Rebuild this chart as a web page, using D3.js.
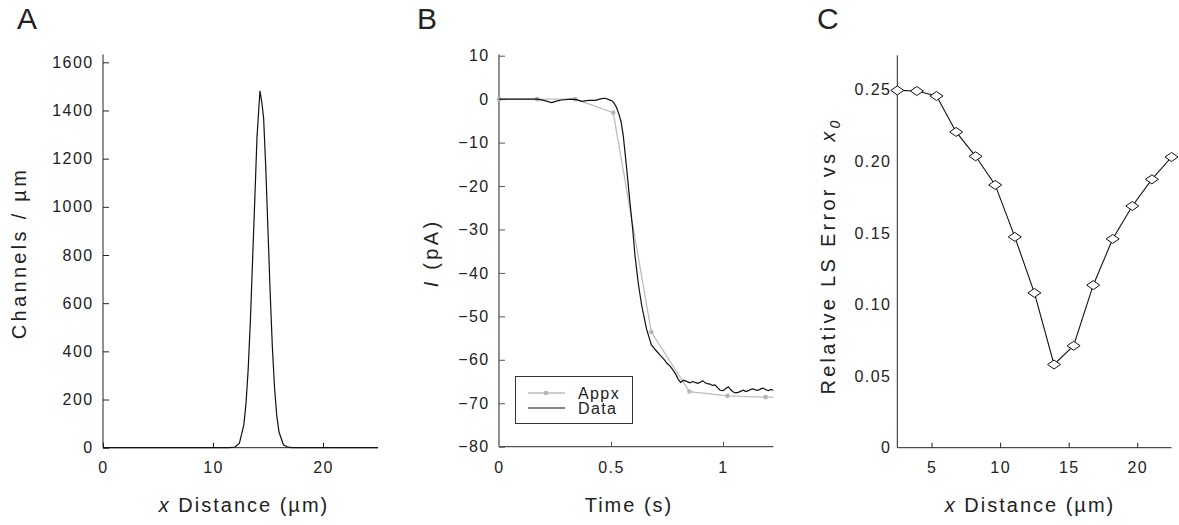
<!DOCTYPE html>
<html><head><meta charset="utf-8">
<script src="https://cdn.jsdelivr.net/npm/d3@7"></script>
<style>
body{margin:0;background:#fff;}
svg{display:block;font-family:"Liberation Sans",Arial,sans-serif;}
.tick text{font-size:16px;fill:#222;letter-spacing:1.4px;}
</style></head><body>
<svg id="c" width="1179" height="525"></svg>
<script>
// ---------- Panel A data ----------
const distA = [0, 11.5, 12.0, 12.4, 12.8, 13.0, 13.2, 13.4, 13.6, 13.8, 14.0, 14.27, 14.45, 14.6, 14.8, 15.0, 15.2, 15.4, 15.6, 15.8, 16.0, 16.4, 16.8, 17.2, 25];
const chanA = [0, 0, 3, 19, 94, 184, 327, 529, 781, 1030, 1290, 1482, 1430, 1370, 1160, 900, 640, 415, 245, 132, 65, 12, 2, 0, 0];
const ticksAx = [0, 10, 20];
const ticksAy = [0, 200, 400, 600, 800, 1000, 1200, 1400, 1600];

// ---------- Panel B data ----------
const timeB = [0, 0.17, 0.2, 0.235, 0.26, 0.28, 0.32, 0.345, 0.37, 0.4, 0.43, 0.458, 0.475, 0.49, 0.505, 0.515, 0.525, 0.535, 0.545, 0.555, 0.57, 0.585, 0.597, 0.607, 0.622, 0.637, 0.659, 0.68, 0.7, 0.72, 0.735, 0.75, 0.765, 0.78, 0.79, 0.8, 0.811, 0.823, 0.835, 0.852, 0.865, 0.875, 0.887, 0.897, 0.91, 0.92, 0.93, 0.942, 0.953, 0.964, 0.976, 0.987, 1.001, 1.012, 1.024, 1.035, 1.046, 1.057, 1.068, 1.08, 1.091, 1.102, 1.113, 1.124, 1.135, 1.147, 1.158, 1.169, 1.18, 1.191, 1.202, 1.213, 1.225];
const dataB = [0, 0, -0.3, -0.8, -0.4, -0.2, 0, -0.1, -0.5, -0.3, -0.3, 0.1, 0.2, -0.1, -0.4, -1.0, -2.0, -3.4, -5.2, -8.5, -16.0, -24.0, -30.0, -36.0, -42.5, -47.5, -53.0, -56.5, -57.8, -59.0, -59.8, -60.8, -61.5, -62.6, -63.4, -64.5, -65.2, -64.7, -64.9, -65.3, -65.0, -65.2, -65.4, -65.2, -64.8, -65.3, -65.5, -65.6, -65.9, -65.8, -66.4, -67.0, -67.1, -66.6, -66.2, -66.9, -67.4, -67.6, -67.5, -67.2, -67.0, -67.3, -67.1, -66.8, -66.7, -67.0, -67.0, -66.7, -66.5, -66.9, -67.1, -66.8, -67.0];
const timeAppx = [0, 0.17, 0.34, 0.51, 0.68, 0.85, 1.02, 1.19, 1.225];
const appxB = [0, 0, 0, -3.1, -53.6, -67.3, -68.3, -68.6, -68.6];
const appxMarked = 8; // markers drawn on the first 8 samples
const ticksBx = [0, 0.5, 1];
const ticksBy = [10, 0, -10, -20, -30, -40, -50, -60, -70, -80];
const legendLabels = ["Appx", "Data"];

// ---------- Panel C data ----------
const distC = [2.5, 3.93, 5.36, 6.79, 8.21, 9.64, 11.07, 12.5, 13.93, 15.36, 16.79, 18.21, 19.64, 21.07, 22.5];
const errC = [0.2495, 0.2491, 0.2456, 0.2205, 0.2035, 0.1835, 0.1472, 0.1081, 0.0581, 0.0712, 0.1135, 0.1458, 0.1688, 0.1874, 0.2030];
const ticksCx = [5, 10, 15, 20];
const ticksCy = [0, 0.05, 0.10, 0.15, 0.20, 0.25];
const ticksCyLabels = ["0", "0.05", "0.10", "0.15", "0.20", "0.25"];

const svg = d3.select("#c");
const txt = "#222";

function panelLabel(x, t){
  svg.append("text").attr("x", x).attr("y", 29).attr("font-size", 30).attr("fill", txt).text(t);
}
function yTitle(x, cy, build){
  const t = svg.append("text").attr("transform", `translate(${x},${cy}) rotate(-90)`)
    .attr("text-anchor", "middle").attr("font-size", 20).attr("letter-spacing", 3.3).attr("fill", txt);
  build(t);
}
function xTitle(cx, build){
  const t = svg.append("text").attr("x", cx).attr("y", 512).attr("text-anchor", "middle")
    .attr("font-size", 20).attr("letter-spacing", 2).attr("fill", txt);
  build(t);
}
function styleAxis(g, col){
  g.select(".domain").remove();
  g.selectAll(".tick line").attr("stroke", col);
  g.selectAll(".tick text").attr("fill", txt);
}

// ================= Panel A =================
{
  const x = d3.scaleLinear().domain([0, 25]).range([103, 378]);
  const y = d3.scaleLinear().domain([0, 1600]).range([447.7, 62.3]);
  const col = "#222";
  const gx = svg.append("g").attr("transform", `translate(0,${y(0)})`)
    .call(d3.axisBottom(x).tickValues(ticksAx).tickSize(-5).tickPadding(14).tickFormat(d3.format("d")));
  styleAxis(gx, col);
  const gy = svg.append("g").attr("transform", `translate(${x(0)},0)`)
    .call(d3.axisLeft(y).tickValues(ticksAy).tickSize(-6).tickPadding(9.5).tickFormat(d3.format("d")));
  styleAxis(gy, col);
  svg.append("line").attr("x1", x(0)).attr("x2", x(0)).attr("y1", y(0)).attr("y2", y(1633)).attr("stroke", col);
  svg.append("line").attr("x1", x(0)).attr("x2", x(25)).attr("y1", y(0)).attr("y2", y(0)).attr("stroke", col);
  svg.append("path").datum(distA.map((d, i) => [d, chanA[i]]))
    .attr("fill", "none").attr("stroke", "#111").attr("stroke-width", 1.2)
    .attr("d", d3.line().x(d => x(d[0])).y(d => y(d[1])));
  panelLabel(17, "A");
  yTitle(26, 253, t => t.text("Channels / µm"));
  xTitle(244, t => { t.append("tspan").attr("font-style", "italic").text("x"); t.append("tspan").text(" Distance (µm)"); });
}

// ================= Panel B =================
{
  const x = d3.scaleLinear().domain([0, 1.225]).range([499, 773.4]);
  const y = d3.scaleLinear().domain([-80, 10]).range([446.7, 55.7]);
  const col = "#555";
  const gx = svg.append("g").attr("transform", `translate(0,${y(-80)})`)
    .call(d3.axisBottom(x).tickValues(ticksBx).tickSize(-5).tickPadding(15).tickFormat(d3.format("~g")));
  styleAxis(gx, col);
  gx.selectAll(".tick").filter(d => d === 0).select("line").remove();
  const gy = svg.append("g").attr("transform", `translate(${x(0)},0)`)
    .call(d3.axisLeft(y).tickValues(ticksBy).tickSize(-6).tickPadding(9.5).tickFormat(d3.format("d")));
  styleAxis(gy, col);
  svg.append("line").attr("x1", x(0)).attr("x2", x(0)).attr("y1", y(-80)).attr("y2", y(10.3)).attr("stroke", col).attr("stroke-width", 1.3);
  svg.append("line").attr("x1", x(0)).attr("x2", x(1.225)).attr("y1", y(-80)).attr("y2", y(-80)).attr("stroke", col).attr("stroke-width", 1.3);

  const line = d3.line().x(d => x(d[0])).y(d => y(d[1]));
  svg.append("path").datum(timeAppx.map((d, i) => [d, appxB[i]]))
    .attr("fill", "none").attr("stroke", "#bdbdbd").attr("stroke-width", 1.3).attr("d", line);
  svg.append("g").selectAll("circle").data(timeAppx.slice(0, appxMarked)).join("circle")
    .attr("cx", d => x(d)).attr("cy", (d, i) => y(appxB[i])).attr("r", 2.3).attr("fill", "#b5b5b5");
  svg.append("path").datum(timeB.map((d, i) => [d, dataB[i]]))
    .attr("fill", "none").attr("stroke", "#111").attr("stroke-width", 1.2).attr("d", line);

  // legend
  const lg = svg.append("g");
  lg.append("rect").attr("x", 515.5).attr("y", 376.5).attr("width", 117).attr("height", 47)
    .attr("fill", "#fff").attr("stroke", "#333").attr("stroke-width", 1);
  lg.append("line").attr("x1", 528).attr("x2", 565).attr("y1", 393).attr("y2", 393).attr("stroke", "#bdbdbd").attr("stroke-width", 1.3);
  lg.append("circle").attr("cx", 546).attr("cy", 393).attr("r", 2.3).attr("fill", "#b5b5b5");
  lg.append("line").attr("x1", 528).attr("x2", 565).attr("y1", 408).attr("y2", 408).attr("stroke", "#111").attr("stroke-width", 1.2);
  lg.selectAll("text").data(legendLabels).join("text")
    .attr("x", 578).attr("y", (d, i) => 399 + i * 15).attr("font-size", 16).attr("letter-spacing", 1.4)
    .attr("fill", txt).text(d => d);

  panelLabel(417, "B");
  yTitle(438, 253, t => { t.append("tspan").attr("font-style", "italic").text("I"); t.append("tspan").text(" (pA)"); });
  xTitle(629, t => t.text("Time (s)"));
}

// ================= Panel C =================
{
  const x = d3.scaleLinear().domain([2.5, 22.5]).range([897.3, 1171.5]);
  const y = d3.scaleLinear().domain([0, 0.25]).range([447.7, 89.7]);
  const col = "#222";
  const gx = svg.append("g").attr("transform", `translate(0,${y(0)})`)
    .call(d3.axisBottom(x).tickValues(ticksCx).tickSize(-5).tickPadding(14).tickFormat(d3.format("d")));
  styleAxis(gx, col);
  const gy = svg.append("g").attr("transform", `translate(${x(2.5)},0)`)
    .call(d3.axisLeft(y).tickValues(ticksCy).tickSize(0).tickPadding(6).tickFormat((d, i) => ticksCyLabels[i]));
  styleAxis(gy, col);
  svg.append("line").attr("x1", x(2.5)).attr("x2", x(2.5)).attr("y1", y(0)).attr("y2", y(0.274)).attr("stroke", col);
  svg.append("line").attr("x1", x(2.5)).attr("x2", x(22.5)).attr("y1", y(0)).attr("y2", y(0)).attr("stroke", col);
  svg.append("path").datum(distC.map((d, i) => [d, errC[i]]))
    .attr("fill", "none").attr("stroke", "#111").attr("stroke-width", 1.1)
    .attr("d", d3.line().x(d => x(d[0])).y(d => y(d[1])));
  svg.append("g").selectAll("path").data(distC).join("path")
    .attr("transform", (d, i) => `translate(${x(d)},${y(errC[i])})`)
    .attr("d", "M-6.5,0L0,-4.5L6.5,0L0,4.5Z")
    .attr("fill", "#fff").attr("stroke", "#111").attr("stroke-width", 1);
  panelLabel(817, "C");
  yTitle(835, 256, t => {
    t.append("tspan").text("Relative LS Error vs ");
    t.append("tspan").attr("font-style", "italic").text("x");
    t.append("tspan").attr("font-style", "italic").attr("font-size", 14).attr("dy", 5).text("0");
  });
  xTitle(1030, t => { t.append("tspan").attr("font-style", "italic").text("x"); t.append("tspan").text(" Distance (µm)"); });
}
</script>
</body></html>
